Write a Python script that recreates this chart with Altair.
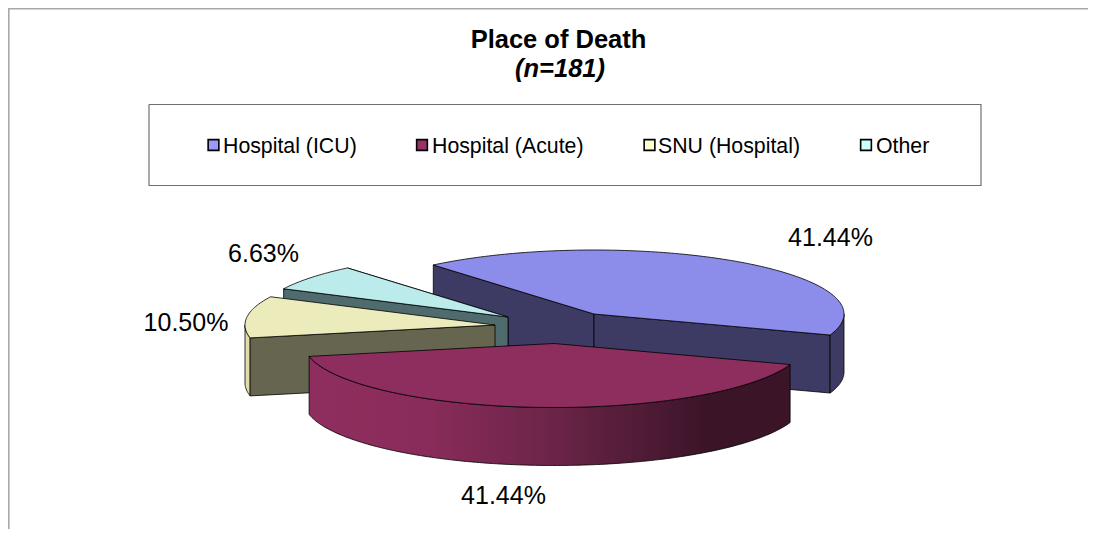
import math
import altair as alt
import pandas as pd

# ---- values ----
categories = ["Hospital (ICU)", "Hospital (Acute)", "SNU (Hospital)", "Other"]
shares = [41.44, 41.44, 10.50, 6.63]
swatches = ["#9999FF", "#993366", "#FFFFCC", "#CCFFFF"]
tops = ["#8C8CEB", "#8E2E5E", "#EBEBBB", "#BBEBEB"]
walls = ["#3D3B63", "#8E2E5E", "#666650", "#4F6B6E"]
rims = ["#3D3B63", "#8E2E5E", "#E0DDAA", "#4F6B6E"]
apexes = [(594, 314), (554, 343.5), (495, 325), (508, 317)]
label_text = ["41.44%", "41.44%", "10.50%", "6.63%"]
label_x = [830.5, 503.5, 186, 263.5]
label_y = [246, 504, 331, 262]
legend_square_x = [213.5, 422, 649.5, 866]
legend_text_x = [223, 432, 658, 876]

W, H = 1080, 521
RX, RY = 250, 64
DEPTH = 58
START = 130.0


def pt(i, deg):
    cx, cy = apexes[i]
    return cx + RX * math.cos(math.radians(deg)), cy - RY * math.sin(math.radians(deg))


angles = []
a = START
for s in shares:
    angles.append((a, a - s * 3.6))
    a -= s * 3.6


def arc(i, a0, a1):
    n = max(2, int(abs(a1 - a0)) + 1)
    return [pt(i, a0 + (a1 - a0) * k / (n - 1)) for k in range(n)]


xs = alt.Scale(domain=[0, W], nice=False, zero=False)
ys = alt.Scale(domain=[H, 0], nice=False, zero=False)
X = alt.X("x:Q", scale=xs, axis=None)
Y = alt.Y("y:Q", scale=ys, axis=None)


def poly(points, fill, stroke="#000000", sw=0.8):
    # page pixels -> chart pixels (8px page margin)
    pts = list(points) + [points[0]]
    df = pd.DataFrame({"x": [p[0] - 8 for p in pts], "y": [p[1] - 8 for p in pts], "o": range(len(pts))})
    return alt.Chart(df).mark_line(fill=fill, stroke=stroke, strokeWidth=sw, interpolate="linear", clip=True).encode(
        x=X, y=Y, order="o:Q"
    )


def down(points):
    return [(p[0], p[1] + DEPTH) for p in reversed(points)]


def side(i, p, q, fill):
    return poly([p, q, (q[0], q[1] + DEPTH), (p[0], p[1] + DEPTH)], fill)


def top(i):
    a0, a1 = angles[i]
    return poly([apexes[i]] + arc(i, a0, a1), tops[i])


layers = []
# outer frame of the picture
frame = pd.DataFrame({"x": [0.8, 0.8, W], "y": [H, 0.8, 0.8], "o": [0, 1, 2]})
layers.append(alt.Chart(frame).mark_line(stroke="#A8A8A8", strokeWidth=1.6, clip=True).encode(x=X, y=Y, order="o:Q"))

# legend box
box = [(149, 104.5), (981, 104.5), (981, 185.5), (149, 185.5)]
layers.append(poly(box, "#FFFFFF", "#707070", 1.2))

# ICU slice
a0, a1 = angles[0]
layers.append(side(0, pt(0, a0), apexes[0], walls[0]))
layers.append(side(0, apexes[0], pt(0, a1), walls[0]))
r = arc(0, a1, 0)
layers.append(poly(r + down(r), walls[0]))
layers.append(top(0))

# Other slice
a0, a1 = angles[3]
layers.append(side(3, pt(3, a1 + 0), apexes[3], walls[3]))
layers.append(side(3, pt(3, a0), apexes[3], walls[3]))
layers.append(top(3))

# SNU slice
a0, a1 = angles[2]
r = arc(2, a0, -180)
layers.append(poly(r + down(r), rims[2]))
layers.append(side(2, pt(2, a0), apexes[2], walls[2]))
layers.append(top(2))

# Acute slice with shaded rim
a0, a1 = angles[1]
r = arc(1, a0, a1)
grad = alt.Gradient(
    gradient="linear", x1=0, x2=1, y1=0, y2=0,
    stops=[
        alt.GradientStop(offset=0.0, color="#8E2E5E"),
        alt.GradientStop(offset=0.24, color="#8A2C5B"),
        alt.GradientStop(offset=0.5, color="#6C2548"),
        alt.GradientStop(offset=0.83, color="#3B1428"),
        alt.GradientStop(offset=1.0, color="#3B1428"),
    ],
)
layers.append(poly(r + down(r), grad))
layers.append(top(1))

# title
titles = pd.DataFrame({"x": [550.5], "y": [40], "t": ["Place of Death"]})
layers.append(alt.Chart(titles).mark_text(font="Liberation Sans", fontWeight="bold", fontSize=25.5, align="center", baseline="alphabetic", color="black").encode(x=X, y=Y, text="t:N"))
sub = pd.DataFrame({"x": [552], "y": [69], "t": ["(n=181)"]})
layers.append(alt.Chart(sub).mark_text(font="Liberation Sans", fontWeight="bold", fontStyle="italic", fontSize=25.5, align="center", baseline="alphabetic", color="black").encode(x=X, y=Y, text="t:N"))

# legend
leg = pd.DataFrame({
    "sx": [v - 8 for v in legend_square_x],
    "x": [v - 8 for v in legend_text_x],
    "y": [145 - 8] * 4,
    "ty": [153 - 8] * 4,
    "cat": categories,
    "swatch": swatches,
})
layers.append(alt.Chart(leg).mark_square(size=115, stroke="black", strokeWidth=1.6, opacity=1).encode(
    x=alt.X("sx:Q", scale=xs, axis=None), y=Y,
    fill=alt.Fill("cat:N", scale=alt.Scale(domain=categories, range=swatches), legend=None),
))
layers.append(alt.Chart(leg).mark_text(font="Liberation Sans", fontSize=21.3, align="left", baseline="alphabetic", color="black").encode(
    x=X, y=alt.Y("ty:Q", scale=ys, axis=None), text="cat:N"))

# data labels
labs = pd.DataFrame({"x": [v - 8 for v in label_x], "y": [v - 8 for v in label_y], "t": label_text, "i": range(4)})
layers.append(alt.Chart(labs).mark_text(font="Liberation Sans", fontSize=25, align="center", baseline="alphabetic", color="black").encode(x=X, y=Y, text="t:N", detail="i:N"))

chart = alt.layer(*layers).properties(
    width=W, height=H, padding=0,
    autosize=alt.AutoSizeParams(type="fit", contains="padding"),
).configure_view(stroke=None)
chart.save("out.html", embed_options={"renderer": "svg", "actions": False})
